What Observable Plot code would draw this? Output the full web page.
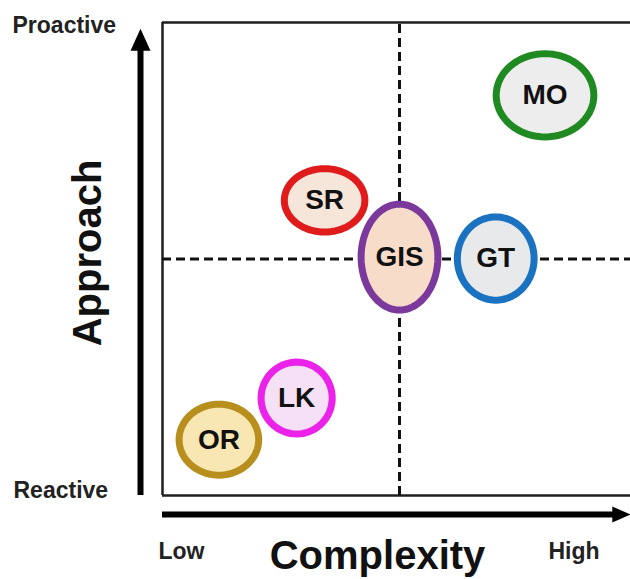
<!DOCTYPE html>
<html>
<head>
<meta charset="utf-8">
<script src="https://cdn.jsdelivr.net/npm/d3@7"></script>
<script src="https://cdn.jsdelivr.net/npm/@observablehq/plot@0.6"></script>
<style>
  html, body { margin: 0; padding: 0; background: #ffffff; overflow: hidden; width: 630px; height: 579px; }
  #chart { width: 636px; }
  #chart svg { display: block; max-width: none !important; }
</style>
</head>
<body>
<div id="chart"></div>
<script>
// ---- data ----
const names = ["MO", "SR", "GIS", "GT", "LK", "OR"];
const complexity = [8.07, 3.42, 5.0, 7.03, 2.83, 1.19];   // ellipse centre, x
const approach = [8.46, 6.24, 5.04, 5.01, 2.06, 1.18];     // ellipse centre, y
const spreadComplexity = [1.03, 0.85, 0.81, 0.81, 0.75, 0.84]; // half-width
const spreadApproach = [0.88, 0.67, 1.12, 0.88, 0.76, 0.75];   // half-height
const yLabels = ["Reactive", "Proactive"];
const xLabels = ["Low", "High"];
const xTitle = "Complexity";
const yTitle = "Approach";
const midpoint = 5;

// ---- styles ----
const strokePalette = ["#1f8a22", "#e01b1b", "#7b3a9b", "#1a72c0", "#ea22ea", "#b88e1c"];
const fillPalette = ["#ededed", "#f6e5d9", "#f8dcca", "#e7e9eb", "#f6e0f6", "#f8e7b2"];

const items = names.map((n, i) => ({
  name: n, cx: complexity[i], cy: approach[i],
  rx: spreadComplexity[i], ry: spreadApproach[i],
  stroke: strokePalette[i], fill: fillPalette[i]
}));

// ellipse outlines built from centre and spread
const outline = items.flatMap(d => d3.range(73).map(k => {
  const t = 2 * Math.PI * k / 72;
  return {name: d.name, x: d.cx + d.rx * Math.cos(t), y: d.cy + d.ry * Math.sin(t), stroke: d.stroke, fill: d.fill};
}));

const arrowEnd = 9.87;
const upHead = {draw(ctx) { ctx.moveTo(0, 0); ctx.lineTo(10, 22); ctx.lineTo(-10, 22); ctx.closePath(); }};
const rightHead = {draw(ctx) { ctx.moveTo(0, 0); ctx.lineTo(-18, 8); ctx.lineTo(-18, -8); ctx.closePath(); }};

const font = "'Liberation Sans', Arial, Helvetica, sans-serif";

const chart = Plot.plot({
  width: 636,
  height: 579,
  marginLeft: 162,
  marginRight: 0,
  marginTop: 22,
  marginBottom: 84,
  x: {domain: [0, 10], axis: null},
  y: {domain: [0, 10], axis: null},
  color: {type: "identity"},
  style: {fontFamily: font, background: "#ffffff", overflow: "visible", maxWidth: "none"},
  marks: [
    // frame (top, bottom, left)
    Plot.ruleY([0, 10], {x1: 0, x2: 10, stroke: "#1e1e1e", strokeWidth: 2.5}),
    Plot.ruleX([0], {y1: 0, y2: 10, stroke: "#1e1e1e", strokeWidth: 2.5}),
    // quadrant dividers
    Plot.ruleX([midpoint], {y1: 0, y2: 10, stroke: "#111", strokeWidth: 3, strokeDasharray: "9,5"}),
    Plot.ruleY([midpoint], {x1: 0, x2: 10, stroke: "#111", strokeWidth: 3, strokeDasharray: "9,5"}),
    // ellipses
    Plot.line(outline, {x: "x", y: "y", z: "name", stroke: "stroke", fill: "fill", strokeWidth: 7, curve: "linear-closed"}),
    Plot.text(items, {x: "cx", y: "cy", text: "name", fontSize: 28, fontWeight: "bold", fill: "#111"}),
    // axis arrows
    Plot.ruleX([0], {y1: 0, y2: arrowEnd - 0.3, dx: -22, stroke: "#000", strokeWidth: 6}),
    Plot.dot([{x: 0, y: arrowEnd}], {x: "x", y: "y", dx: -22, symbol: upHead, fill: "#000", stroke: "none"}),
    Plot.ruleY([0], {x1: 0, x2: arrowEnd - 0.25, dy: 19, stroke: "#000", strokeWidth: 6}),
    Plot.dot([{x: arrowEnd, y: 0}], {x: "x", y: "y", dy: 19, symbol: rightHead, fill: "#000", stroke: "none"}),
    // end labels
    Plot.text([yLabels[1]], {x: 0, y: 10, text: d => d, dx: -150, dy: 10, textAnchor: "start", lineAnchor: "bottom", fontSize: 23, fontWeight: "bold", fill: "#222"}),
    Plot.text([yLabels[0]], {x: 0, y: 0, text: d => d, dx: -149, dy: 2, textAnchor: "start", lineAnchor: "bottom", fontSize: 23, fontWeight: "bold", fill: "#222"}),
    Plot.text([xLabels[0]], {x: 0, y: 0, text: d => d, dx: -4, dy: 63, textAnchor: "start", lineAnchor: "bottom", fontSize: 23, fontWeight: "bold", fill: "#222"}),
    Plot.text([xLabels[1]], {x: 10, y: 0, text: d => d, dx: -88, dy: 63, textAnchor: "start", lineAnchor: "bottom", fontSize: 23, fontWeight: "bold", fill: "#222"}),
    // titles
    Plot.text([xTitle], {x: midpoint, y: 0, text: d => d, dx: -22, dy: 73, lineAnchor: "bottom", fontSize: 40, fontWeight: "bold", fill: "#111"}),
    Plot.text([yTitle], {x: 0, y: midpoint, text: d => d, dx: -62, dy: -6, rotate: -90, lineAnchor: "bottom", fontSize: 40, fontWeight: "bold", fill: "#111"})
  ]
});
document.getElementById("chart").append(chart);
</script>
</body>
</html>
